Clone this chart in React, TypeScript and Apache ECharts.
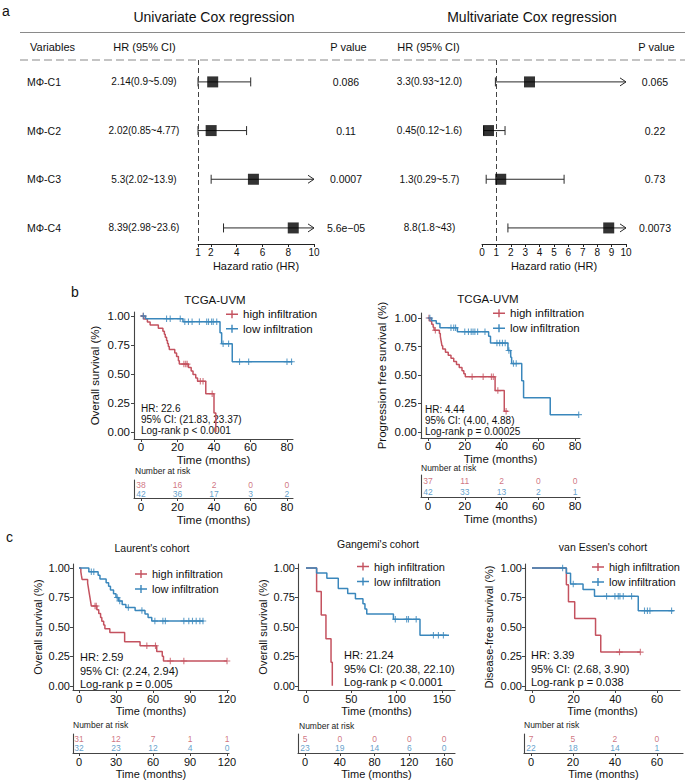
import React, { useEffect, useRef } from "react";
import * as echarts from "echarts";

const FONT = "'Liberation Sans', Arial, Helvetica, sans-serif";
const RED = "#C4525F";
const BLUE = "#3A87BC";
const INK = "#111111";
const AXIS = "#444444";

// ---------------- a: Cox regression data ----------------
const variables = ["MΦ-C1", "MΦ-C2", "MΦ-C3", "MΦ-C4"];
const uniHR = [2.14, 2.02, 5.3, 8.39];
const uniLow = [0.9, 0.85, 2.02, 2.98];
const uniHigh = [5.09, 4.77, 13.9, 23.6];
const uniLabels = ["2.14(0.9~5.09)", "2.02(0.85~4.77)", "5.3(2.02~13.9)", "8.39(2.98~23.6)"];
const uniP = ["0.086", "0.11", "0.0007", "5.6e−05"];
const multiHR = [3.3, 0.45, 1.3, 8.8];
const multiLow = [0.93, 0.12, 0.29, 1.8];
const multiHigh = [12.0, 1.6, 5.7, 43];
const multiLabels = ["3.3(0.93~12.0)", "0.45(0.12~1.6)", "1.3(0.29~5.7)", "8.8(1.8~43)"];
const multiP = ["0.065", "0.22", "0.73", "0.0073"];
const uniTicks = [1, 2, 4, 6, 8, 10];
const multiTicks = [0, 1, 2, 3, 4, 5, 6, 7, 8, 9, 10];

// ---------------- KM tick labels ----------------
const survTicks = [0, 0.25, 0.5, 0.75, 1];
const bTimeTicks = [0, 20, 40, 60, 80];
const c1TimeTicks = [0, 30, 60, 90, 120];
const c2TimeTicks = [0, 50, 100, 150];
const c2RiskTicks = [0, 40, 80, 120, 160];
const c3TimeTicks = [0, 20, 40, 60];

// ---------------- b: TCGA-UVM OS ----------------
const b1High = [[0, 1], [1.5, 0.974], [3.5, 0.947], [5, 0.921], [9.5, 0.895], [12, 0.868], [12.8, 0.842], [13.3, 0.816], [14, 0.789], [14.5, 0.763], [15, 0.737], [15.5, 0.71], [18.5, 0.68], [19.5, 0.65], [20.5, 0.615], [21, 0.585], [26, 0.555], [27.5, 0.525], [28.5, 0.495], [30, 0.465], [31, 0.438], [35.5, 0.33], [40, 0.165], [41, 0]];
const b1HighCens = [[1.2, 1], [23.5, 0.585], [24.5, 0.585], [25.3, 0.585], [32.5, 0.438], [34, 0.438], [39, 0.33]];
const b1Low = [[0, 1], [2.5, 0.976], [23, 0.95], [43.3, 0.855], [44.2, 0.76], [50, 0.605], [83, 0.605]];
const b1LowCens = [[1.3, 1], [14, 0.976], [16, 0.976], [21.5, 0.976], [24, 0.95], [26, 0.95], [28, 0.95], [32, 0.95], [36, 0.95], [37, 0.95], [38.7, 0.95], [39.6, 0.95], [41.5, 0.95], [45, 0.76], [48, 0.76], [54, 0.605], [59, 0.605], [80, 0.605], [82.5, 0.605]];
const b1RiskHigh = [38, 16, 2, 0, 0];
const b1RiskLow = [42, 36, 17, 3, 2];
const b1Stats = ["HR: 22.6", "95% CI: (21.83, 23.37)", "Log-rank p < 0.0001"];

// ---------------- b: TCGA-UVM PFS ----------------
const b2High = [[0, 1], [1, 0.973], [2, 0.946], [2.8, 0.919], [3.3, 0.892], [6.2, 0.865], [6.7, 0.838], [7, 0.81], [7.3, 0.783], [7.6, 0.756], [8, 0.729], [9.5, 0.7], [11, 0.673], [12.5, 0.646], [14, 0.619], [15.5, 0.592], [17, 0.565], [18.5, 0.538], [19.5, 0.511], [20.3, 0.484], [36.5, 0.363], [41.5, 0.182], [43.5, 0.182]];
const b2HighCens = [[0.5, 1], [4, 0.892], [24, 0.484], [30, 0.484], [34.5, 0.484], [35.5, 0.484], [38, 0.363], [42.5, 0.182]];
const b2Low = [[0, 1], [2, 0.976], [4.5, 0.952], [6.5, 0.915], [16, 0.88], [33, 0.84], [34, 0.78], [43.5, 0.715], [45, 0.655], [45.5, 0.6], [51, 0.45], [52, 0.3], [66.5, 0.152], [82, 0.152]];
const b2LowCens = [[1, 1], [12.5, 0.915], [14, 0.915], [15, 0.915], [20, 0.88], [22, 0.88], [23.5, 0.88], [24.5, 0.88], [25.5, 0.88], [27, 0.88], [31, 0.88], [37.5, 0.78], [39, 0.78], [40.5, 0.78], [42, 0.78], [44, 0.715], [46.5, 0.6], [48, 0.6], [82, 0.152]];
const b2RiskHigh = [37, 11, 2, 0, 0];
const b2RiskLow = [42, 33, 13, 2, 1];
const b2Stats = ["HR: 4.44", "95% CI: (4.00, 4.88)", "Log-rank p = 0.00025"];

// ---------------- c: Laurent ----------------
const c1High = [[0, 1], [1.5, 0.968], [2, 0.935], [2.5, 0.903], [7, 0.871], [7.5, 0.839], [8, 0.806], [8.5, 0.774], [9, 0.742], [9.5, 0.71], [10, 0.677], [14.5, 0.645], [16, 0.613], [17.5, 0.58], [18.5, 0.548], [20, 0.516], [21, 0.484], [25, 0.452], [37, 0.373], [49.5, 0.34], [63, 0.29], [67.5, 0.25], [68.5, 0.21], [120, 0.21]];
const c1HighCens = [[13, 0.677], [14, 0.677], [55, 0.34], [62, 0.34], [74, 0.21], [85, 0.21], [120, 0.21]];
const c1Low = [[0, 1], [8, 0.969], [15.5, 0.938], [17, 0.906], [22, 0.875], [24, 0.844], [25.5, 0.813], [28, 0.781], [30, 0.75], [32, 0.72], [35, 0.69], [38, 0.665], [45.5, 0.64], [53.5, 0.61], [56, 0.58], [59, 0.55], [101, 0.55]];
const c1LowCens = [[10, 0.969], [12, 0.969], [31, 0.75], [33, 0.72], [40, 0.665], [51, 0.64], [61.5, 0.55], [68, 0.55], [70, 0.55], [85, 0.55], [89, 0.55], [92, 0.55], [95, 0.55], [98, 0.55], [100.5, 0.55]];
const c1RiskHigh = [31, 12, 7, 1, 1];
const c1RiskLow = [32, 23, 12, 4, 0];
const c1Stats = ["HR: 2.59", "95% CI: (2.24, 2.94)", "Log-rank p = 0.005"];

// ---------------- c: Gangemi ----------------
const c2High = [[0, 1], [11.7, 0.8], [16.8, 0.6], [22, 0.4], [27.6, 0.2], [29, 0]];
const c2HighCens: number[][] = [];
const c2Low = [[0, 1], [11.7, 0.957], [23, 0.913], [35.6, 0.826], [46, 0.783], [54.5, 0.739], [62.8, 0.696], [65, 0.652], [67, 0.609], [96.4, 0.565], [125.7, 0.43], [157.7, 0.43]];
const c2LowCens = [[98.5, 0.565], [111, 0.565], [113, 0.565], [121.5, 0.565], [140.5, 0.43], [146, 0.43], [151.5, 0.43]];
const c2RiskHigh = [5, 0, 0, 0, 0];
const c2RiskLow = [23, 19, 14, 6, 0];
const c2Stats = ["HR: 21.24", "95% CI: (20.38, 22.10)", "Log-rank p < 0.0001"];

// ---------------- c: van Essen ----------------
const c3High = [[0, 1], [16.5, 0.857], [17.5, 0.714], [20.5, 0.571], [30.5, 0.429], [33, 0.286], [52, 0.286]];
const c3HighCens = [[42, 0.286], [52, 0.286]];
const c3Low = [[0, 1], [16.5, 0.955], [18.5, 0.864], [24.5, 0.818], [30, 0.76], [51, 0.638], [68, 0.638]];
const c3LowCens = [[14.7, 1], [19.8, 0.864], [35.8, 0.76], [39.8, 0.76], [41.4, 0.76], [42.2, 0.76], [43.8, 0.76], [47.8, 0.76], [54, 0.638], [55.4, 0.638], [56.6, 0.638], [67, 0.638]];
const c3RiskHigh = [7, 5, 2, 0];
const c3RiskLow = [22, 18, 14, 1];
const c3Stats = ["HR: 3.39", "95% CI: (2.68, 3.90)", "Log-rank p = 0.038"];

const LEGEND_ICON = "path://M0,3.3H5.3V0H6.7V3.3H12V4.7H6.7V8H5.3V4.7H0Z";
const CENSOR = "path://M-0.17,-1H0.17V-0.17H1V0.17H0.17V1H-0.17V0.17H-1V-0.17H-0.17Z";

function buildOption() {
  const grid: any[] = [];
  const xAxis: any[] = [];
  const yAxis: any[] = [];
  const series: any[] = [];
  const legend: any[] = [];
  const graphic: any[] = [];

  const T = (text: string, x: number, y: number, size: number, align = "left", fill = INK) => {
    graphic.push({
      type: "text",
      silent: true,
      style: { text, x, y, fill, font: `${size}px ${FONT}`, textAlign: align, textVerticalAlign: "middle" },
    });
  };
  const L = (x1: number, y1: number, x2: number, y2: number, stroke: string, dash?: number[], w = 1) => {
    graphic.push({
      type: "line",
      silent: true,
      shape: { x1, y1, x2, y2 },
      style: { stroke, lineWidth: w, lineDash: dash || null },
    });
  };

  // ---------------- a: forest plots ----------------
  const FT = 60, FH = 184, FMIN = 0.55, FMAX = 4.33;
  const rowY = (i: number) => FT + ((i - FMIN) / (FMAX - FMIN)) * FH;

  T("a", 2, 11, 14);
  T("Univariate Cox regression", 214, 17, 14, "center");
  T("Multivariate Cox regression", 532, 17, 14, "center");
  L(20, 32.5, 685, 32.5, "#8a8a8a", undefined, 1.2);
  L(20, 60, 685, 60, "#8a8a8a", [8, 4], 1.2);
  T("Variables", 30, 47, 11);
  T("HR (95% CI)", 144.5, 47, 11, "center");
  T("P value", 348.5, 47, 11, "center");
  T("HR (95% CI)", 428.5, 47, 11, "center");
  T("P value", 656.5, 47, 11, "center");
  variables.forEach((v, i) => {
    const y = rowY(i + 1);
    T(v, 27, y, 10.5);
    T(uniLabels[i], 144, y, 10, "center");
    T(uniP[i], 346, y, 10.5, "center");
    T(multiLabels[i], 429.5, y, 10, "center");
    T(multiP[i], 655, y, 10.5, "center");
  });

  const forest = (gi: number, left: number, width: number, min: number, max: number, ticks: number[], hr: number[], lo: number[], hi: number[]) => {
    grid.push({ left, top: FT, width, height: FH, containLabel: false, outerBoundsMode: "none" });
    xAxis.push({
      type: "value", gridIndex: gi, min, max,
      axisLine: { show: true, onZero: false, lineStyle: { color: "#222", width: 1 } },
      axisTick: { show: true, length: 3, customValues: ticks, lineStyle: { color: "#222" } },
      axisLabel: { show: true, customValues: ticks, margin: 3, fontSize: 10, color: INK, fontFamily: FONT },
      splitLine: { show: false },
      name: "Hazard ratio (HR)", nameLocation: "middle", nameGap: 16,
      nameTextStyle: { fontSize: 11, color: INK, fontFamily: FONT },
    });
    yAxis.push({ type: "value", gridIndex: gi, min: FMIN, max: FMAX, inverse: true, show: false });
    series.push({
      type: "custom", xAxisIndex: gi, yAxisIndex: gi, silent: true,
      encode: { x: [0, 1], y: 2 },
      data: lo.map((l, i) => [l, hi[i], i + 1]),
      renderItem: (_p: any, api: any) => {
        const l = api.value(0), h = api.value(1), r = api.value(2);
        const a = api.coord([Math.max(l, min), r]);
        const b = api.coord([Math.min(h, max), r]);
        const st = { stroke: "#2a2a2a", lineWidth: 1, fill: "none" };
        const ch: any[] = [
          { type: "line", shape: { x1: a[0], y1: a[1], x2: b[0], y2: b[1] }, style: st },
          { type: "line", shape: { x1: a[0], y1: a[1] - 4.5, x2: a[0], y2: a[1] + 4.5 }, style: st },
        ];
        if (h > max) {
          ch.push({ type: "polyline", shape: { points: [[b[0] - 6, b[1] - 4], [b[0], b[1]], [b[0] - 6, b[1] + 4]] }, style: st });
        } else {
          ch.push({ type: "line", shape: { x1: b[0], y1: b[1] - 4.5, x2: b[0], y2: b[1] + 4.5 }, style: st });
        }
        return { type: "group", children: ch };
      },
    });
    series.push({
      type: "scatter", xAxisIndex: gi, yAxisIndex: gi, silent: true,
      symbol: "rect", symbolSize: 11, itemStyle: { color: "#000" },
      data: hr.map((h, i) => [h, i + 1]), z: 5,
      markLine: {
        silent: true, symbol: "none", label: { show: false },
        lineStyle: { type: [5, 3], color: "#444", width: 1 },
        data: [{ xAxis: 1 }],
      },
    });
  };
  forest(0, 198, 116, 1, 10, uniTicks, uniHR, uniLow, uniHigh);
  forest(1, 482, 144, 0, 10, multiTicks, multiHR, multiLow, multiHigh);

  // ---------------- KM panels ----------------
  const axisStyle = { color: AXIS, width: 1.1 };
  const valueAxis = (gi: number, min: number, max: number, ticks: number[], margin: number, fs: number, name: string, gap: number, isY: boolean, fmt?: (v: number) => string) => ({
    type: "value", gridIndex: gi, min, max,
    axisLine: { show: true, onZero: false, lineStyle: axisStyle },
    axisTick: { show: true, length: 3, customValues: ticks, lineStyle: { color: AXIS } },
    axisLabel: { show: true, customValues: ticks, margin, fontSize: fs, color: INK, fontFamily: FONT, formatter: fmt },
    splitLine: { show: false },
    name, nameLocation: "middle", nameGap: gap, nameRotate: isY ? 90 : 0,
    nameTextStyle: { fontSize: fs, color: INK, fontFamily: FONT },
  });

  const addKM = (p: any) => {
    const gi = grid.length;
    grid.push({ ...p.grid, containLabel: false, outerBoundsMode: "none" });
    xAxis.push(valueAxis(gi, p.x[0], p.x[1], p.xTicks, p.xMargin, p.fs, "Time (months)", p.xGap, false));
    yAxis.push(valueAxis(gi, p.y[0], p.y[1], survTicks, p.yMargin, p.fs, p.yName, p.yGap, true, (v: number) => v.toFixed(2)));
    const line = (name: string, data: number[][], color: string) => ({
      type: "line", name, xAxisIndex: gi, yAxisIndex: gi, step: "end", data,
      showSymbol: false, symbol: "none", silent: true,
      lineStyle: { color, width: 1.5 }, itemStyle: { color },
    });
    const cens = (name: string, data: number[][], color: string) => ({
      type: "scatter", name, xAxisIndex: gi, yAxisIndex: gi, data, silent: true,
      symbol: CENSOR, symbolSize: 6.5, itemStyle: { color }, z: 3,
    });
    series.push(line("high infiltration", p.high, RED));
    series.push(line("low infiltration", p.low, BLUE));
    series.push(cens("high censored", p.highC, RED));
    series.push(cens("low censored", p.lowC, BLUE));
    legend.push({
      data: ["high infiltration", "low infiltration"], orient: "vertical",
      left: p.legend[0], top: p.legend[1], itemWidth: 12, itemHeight: 8, itemGap: p.legendGap,
      icon: LEGEND_ICON, selectedMode: false, padding: 0,
      textStyle: { fontSize: p.fs, color: INK, fontFamily: FONT, lineHeight: 13 },
    });
    T(p.title[0], p.title[1], p.title[2], p.titleFs, "center");
    p.stats.forEach((s: string, i: number) => T(s, p.statsPos[0], p.statsPos[1] + i * p.statsPos[2], p.statFs));

    // risk table
    const r = p.risk;
    const ri = grid.length;
    grid.push({ ...r.grid, containLabel: false, outerBoundsMode: "none" });
    xAxis.push(valueAxis(ri, r.x[0], r.x[1], r.ticks, r.margin, p.fs, "Time (months)", r.gap, false));
    yAxis.push({
      type: "category", gridIndex: ri, data: ["low", "high"],
      axisLine: { show: true, onZero: false, lineStyle: axisStyle }, axisTick: { show: false }, axisLabel: { show: false },
      splitLine: { show: false },
    });
    const row = (counts: number[], idx: number, color: string) => ({
      type: "scatter", xAxisIndex: ri, yAxisIndex: ri, silent: true,
      symbolSize: 1, itemStyle: { color: "rgba(0,0,0,0)" },
      data: counts.map((c, i) => [r.ticks[i], idx, c]),
      label: {
        show: true, position: "inside", formatter: (q: any) => String(q.value[2]),
        fontSize: 8.5, color, fontFamily: FONT,
      },
    });
    series.push(row(r.high, 1, RED));
    series.push(row(r.low, 0, BLUE));
    T("Number at risk", r.nar[0], r.nar[1], 8.5, "left", "#222");
  };

  addKM({
    grid: { left: 134, top: 312, width: 159, height: 127 }, x: [-3.84, 83.3], y: [-0.06, 1.034],
    xTicks: bTimeTicks, xMargin: 2, yMargin: 4, fs: 11.5, xGap: 13, yGap: 33, yName: "Overall survival (%)",
    high: b1High, low: b1Low, highC: b1HighCens, lowC: b1LowCens,
    legend: [226, 307.8], legendGap: 1.5, title: ["TCGA-UVM", 215, 300], titleFs: 11.5,
    stats: b1Stats, statsPos: [141, 408.3, 11], statFs: 10,
    risk: { grid: { left: 134, top: 480, width: 159, height: 18 }, x: [-3.84, 83.3], ticks: bTimeTicks, high: b1RiskHigh, low: b1RiskLow, nar: [135, 471], margin: 3, gap: 13 },
  });
  addKM({
    grid: { left: 421, top: 313, width: 159, height: 125 }, x: [-3.81, 82.7], y: [-0.053, 1.044],
    xTicks: bTimeTicks, xMargin: 2, yMargin: 4, fs: 11.5, xGap: 13, yGap: 33, yName: "Progression free survival (%)",
    high: b2High, low: b2Low, highC: b2HighCens, lowC: b2LowCens,
    legend: [493, 306.8], legendGap: 2, title: ["TCGA-UVM", 488, 299], titleFs: 11.5,
    stats: b2Stats, statsPos: [425, 409, 11], statFs: 10,
    risk: { grid: { left: 421, top: 475, width: 159, height: 22 }, x: [-3.81, 82.7], ticks: bTimeTicks, high: b2RiskHigh, low: b2RiskLow, nar: [421, 468], margin: 3, gap: 12 },
  });

  T("b", 71, 292, 14);
  T("c", 6, 537, 14);

  addKM({
    grid: { left: 73, top: 564, width: 156, height: 126 }, x: [-4.86, 121.6], y: [-0.036, 1.034],
    xTicks: c1TimeTicks, xMargin: 3.5, yMargin: 3, fs: 11, xGap: 15, yGap: 30, yName: "Overall survival (%)",
    high: c1High, low: c1Low, highC: c1HighCens, lowC: c1LowCens,
    legend: [135, 567.5], legendGap: 2, title: ["Laurent's cohort", 152, 548], titleFs: 10.5,
    stats: c1Stats, statsPos: [80, 657, 13.5], statFs: 11,
    risk: { grid: { left: 73, top: 734, width: 156, height: 19 }, x: [-4.86, 121.6], ticks: c1TimeTicks, high: c1RiskHigh, low: c1RiskLow, nar: [73, 725], margin: 3.5, gap: 14 },
  });
  addKM({
    grid: { left: 298, top: 564, width: 157, height: 126 }, x: [-8.82, 164.3], y: [-0.036, 1.034],
    xTicks: c2TimeTicks, xMargin: 3.5, yMargin: 3, fs: 11, xGap: 15, yGap: 30, yName: "Overall survival (%)",
    high: c2High, low: c2Low, highC: c2HighCens, lowC: c2LowCens,
    legend: [357, 560], legendGap: 2, title: ["Gangemi's cohort", 378, 544], titleFs: 10.5,
    stats: c2Stats, statsPos: [344, 655, 13.5], statFs: 11,
    risk: { grid: { left: 298, top: 734, width: 157, height: 19 }, x: [-8.06, 172.6], ticks: c2RiskTicks, high: c2RiskHigh, low: c2RiskLow, nar: [299, 726], margin: 3.5, gap: 14 },
  });
  addKM({
    grid: { left: 525, top: 564, width: 155, height: 126 }, x: [-3.36, 71.04], y: [-0.036, 1.034],
    xTicks: c3TimeTicks, xMargin: 3.5, yMargin: 3, fs: 11, xGap: 15, yGap: 31, yName: "Disease-free survival (%)",
    high: c3High, low: c3Low, highC: c3HighCens, lowC: c3LowCens,
    legend: [592, 560.5], legendGap: 2, title: ["van Essen's cohort", 603, 547], titleFs: 10.5,
    stats: c3Stats, statsPos: [531, 655, 13.5], statFs: 11,
    risk: { grid: { left: 524, top: 734, width: 159, height: 19 }, x: [-3.33, 72.4], ticks: c3TimeTicks, high: c3RiskHigh, low: c3RiskLow, nar: [524, 725], margin: 3.5, gap: 12 },
  });

  return {
    animation: false,
    backgroundColor: "#ffffff",
    textStyle: { fontFamily: FONT },
    grid, xAxis, yAxis, series, legend, graphic,
  };
}

export default function App() {
  const ref = useRef<HTMLDivElement>(null);
  useEffect(() => {
    if (!ref.current) return;
    const chart = echarts.init(ref.current, null, { renderer: "svg" });
    chart.setOption(buildOption() as any);
    return () => chart.dispose();
  }, []);
  return (
    <div
      ref={ref}
      style={{ position: "absolute", left: 0, top: 0, width: 685, height: 781, background: "#fff" }}
    />
  );
}
